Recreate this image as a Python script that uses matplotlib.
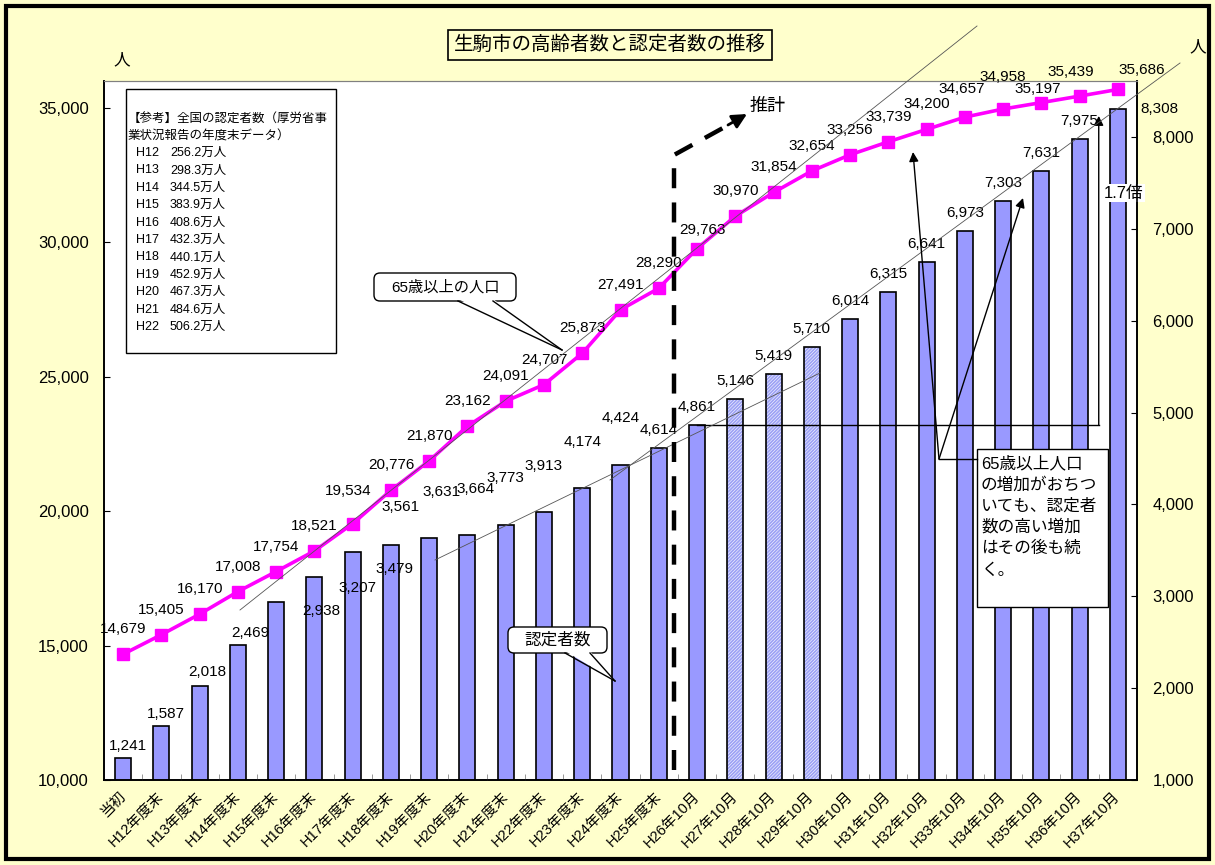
import numpy as np
import matplotlib.pyplot as plt
from matplotlib.patches import Rectangle, FancyBboxPatch, Polygon, FancyArrowPatch
from matplotlib.lines import Line2D
from matplotlib.transforms import IdentityTransform

plt.rcParams['font.family'] = ['Liberation Sans', 'Noto Sans CJK JP', 'DejaVu Sans']
plt.rcParams['hatch.linewidth'] = 1.3

categories = ['当初', 'H12年度末', 'H13年度末', 'H14年度末', 'H15年度末', 'H16年度末',
              'H17年度末', 'H18年度末', 'H19年度末', 'H20年度末', 'H21年度末', 'H22年度末',
              'H23年度末', 'H24年度末', 'H25年度末', 'H26年10月', 'H27年10月', 'H28年10月',
              'H29年10月', 'H30年10月', 'H31年10月', 'H32年10月', 'H33年10月', 'H34年10月',
              'H35年10月', 'H36年10月', 'H37年10月']
elderly = [14679, 15405, 16170, 17008, 17754, 18521, 19534, 20776, 21870, 23162, 24091,
           24707, 25873, 27491, 28290, 29763, 30970, 31854, 32654, 33256, 33739, 34200,
           34657, 34958, 35197, 35439, 35686]
certified = [1241, 1587, 2018, 2469, 2938, 3207, 3479, 3561, 3631, 3664, 3773, 3913, 4174,
             4424, 4614, 4861, 5146, 5419, 5710, 6014, 6315, 6641, 6973, 7303, 7631, 7975, 8308]
national_year = ['H12', 'H13', 'H14', 'H15', 'H16', 'H17', 'H18', 'H19', 'H20', 'H21', 'H22']
national_count = ['256.2', '298.3', '344.5', '383.9', '408.6', '432.3', '440.1', '452.9',
                  '467.3', '484.6', '506.2']
note_lines = ['65歳以上人口', 'の増加がおちつ', 'いても、認定者', '数の高い増加', 'はその後も続', 'く。']

projected = [16, 17, 18]   # hatched bars
base_idx = 15              # 1.7倍 reference bar

# label nudges in pixels (dx, dy)
line_off = {6: (-4, 33), 15: (5, 19), 22: (-3, 28), 23: (0, 32), 24: (-4, 14), 25: (-9, 24),
            26: (24, 19)}
bar_off = {0: (5, 12), 1: (4, 12), 2: (8, 14), 3: (12, 12), 4: (45, -9), 5: (43, -11),
           6: (42, -17), 7: (10, 38), 8: (12, 46), 9: (8, 46), 10: (0, 47), 11: (0, 46),
           12: (0, 46), 13: (0, 47), 26: (42, 0)}

W, H = 1215, 865


def fx(x):
    return x / W


def fy(y):
    return 1 - y / H


def P(x, y):
    return (x, H - y)


fig = plt.figure(figsize=(W / 100, H / 100), dpi=100, facecolor='#FFFFCC')
fig.add_artist(Rectangle((fx(6), fy(859)), fx(1209) - fx(6), fy(6) - fy(859),
                         transform=fig.transFigure, fill=False, lw=3, ec='black'))

ax = fig.add_axes([fx(104), fy(780), fx(1137) - fx(104), fy(81) - fy(780)])
ax2 = ax.twinx()
ax.set_zorder(2)
ax2.set_zorder(1)
ax.patch.set_visible(False)
ax2.patch.set_visible(True)
ax2.patch.set_facecolor('white')

x = np.arange(len(categories))
solid = [i for i in x if i not in projected]
ax2.bar(solid, [certified[i] for i in solid], 0.42, color='#9999FF', edgecolor='black', lw=1.2)
ax2.bar(projected, [certified[i] for i in projected], 0.42, color='white',
        edgecolor='#9DA2F5', hatch='/' * 10, lw=0)
ax2.bar(projected, [certified[i] for i in projected], 0.42, fill=False, edgecolor='black', lw=1.2)

ax.plot(x, elderly, color='#FF00FF', lw=2.6, marker='s', ms=8, zorder=3)

for i, v in enumerate(elderly):
    dx, dy = line_off.get(i, (0, 25))
    ax.annotate(f'{v:,}', (i, v), xytext=(dx, dy), textcoords='offset pixels',
                ha='center', va='center', fontsize=11, annotation_clip=False)
for i, v in enumerate(certified):
    dx, dy = bar_off.get(i, (0, 18))
    ax2.annotate(f'{v:,}', (i, v), xytext=(dx, dy), textcoords='offset pixels',
                 ha='center', va='center', fontsize=11, annotation_clip=False)

ax.set_xlim(-0.5, 26.5)
ax.set_ylim(10000, 36000)
ax2.set_ylim(1000, 8610)
ax.set_yticks(range(10000, 35001, 5000))
ax.set_yticklabels([f'{t:,}' for t in range(10000, 35001, 5000)], fontsize=12)
ax2.set_yticks(range(1000, 8001, 1000))
ax2.set_yticklabels([f'{t:,}' for t in range(1000, 8001, 1000)], fontsize=12)
ax.tick_params(axis='y', direction='in', length=4, pad=11)
ax2.tick_params(axis='y', direction='in', length=4, pad=11)

ax.set_xticks(x)
ax.set_xticklabels(categories, rotation=45, ha='right', va='center',
                   rotation_mode='anchor', fontsize=10.5)
ax.set_xticks(x[:-1] + 0.5, minor=True)
ax.tick_params(axis='x', which='major', length=0, pad=10)
ax.tick_params(axis='x', which='minor', direction='in', length=4, color='#888888')

for a in (ax, ax2):
    a.spines['top'].set_color('#808080')
    a.spines['top'].set_linewidth(0.8)
    for s in ('left', 'bottom', 'right'):
        a.spines[s].set_color('black')
        a.spines[s].set_linewidth(1.2)

# 1.7倍 guide
ax2.plot([base_idx, 25.5], [certified[base_idx]] * 2, color='black', lw=1, zorder=4)
ax2.annotate('', xy=(25.5, 8230), xytext=(25.5, certified[base_idx]),
             arrowprops=dict(arrowstyle='-|>', lw=1, color='black', shrinkA=0, shrinkB=0,
                             mutation_scale=14))
ax2.text(26.15, 7390, '1.7倍', ha='center', va='center', fontsize=12, zorder=5,
         bbox=dict(fc='white', ec='none', pad=1))

# thin guide lines
for (x0, y0), (x1, y1) in [((240, 610), (977, 26)), ((610, 480), (1180, 63)),
                           ((435, 560), (820, 373))]:
    fig.add_artist(Line2D([x0, x1], [H - y0, H - y1], transform=IdentityTransform(),
                          color='#555555', lw=0.6, zorder=4))

# projection dashed arrow
fig.add_artist(Line2D([674, 674, 732], [H - 770, H - 155, H - 123], transform=IdentityTransform(),
                      color='black', lw=3.2, linestyle=(0, (4.5, 3.2)), zorder=4))
fig.add_artist(FancyArrowPatch(P(728, 125), P(747, 114), arrowstyle='-|>', mutation_scale=22,
                               lw=2, color='black', transform=IdentityTransform(),
                               shrinkA=0, shrinkB=0, zorder=4))
fig.text(fx(768), fy(106), '推計', ha='center', va='center', fontsize=13)

# title and unit labels
fig.add_artist(Rectangle((fx(448), fy(60)), fx(772) - fx(448), fy(30) - fy(60),
                         transform=fig.transFigure, fill=False, lw=1.2, ec='black'))
fig.text(fx(610), fy(45), '生駒市の高齢者数と認定者数の推移', ha='center', va='center', fontsize=14)
fig.text(fx(122), fy(60), '人', ha='center', va='center', fontsize=12)
fig.text(fx(1198), fy(47), '人', ha='center', va='center', fontsize=12)

# reference box
fig.add_artist(Rectangle(P(126, 353), 210, 264, transform=IdentityTransform(),
                         fc='white', ec='black', lw=1, zorder=5))
fig.text(fx(128), fy(120), '【参考】全国の認定者数（厚労省事', va='center', fontsize=9, zorder=7)
fig.text(fx(128), fy(137), '業状況報告の年度末データ）', va='center', fontsize=9, zorder=7)
for k, (yr, cnt) in enumerate(zip(national_year, national_count)):
    yy = 153 + 17.4 * k
    fig.text(fx(136), fy(yy), yr, va='center', fontsize=9, zorder=7)
    fig.text(fx(170), fy(yy), cnt + '万人', va='center', fontsize=9, zorder=7)


def callout(x0, y0, x1, y1, base, tip, label, fs):
    fig.add_artist(FancyBboxPatch(P(x0, y1), x1 - x0, y1 - y0,
                                  boxstyle='round,pad=0,rounding_size=6',
                                  transform=IdentityTransform(), fc='white', ec='black',
                                  lw=1, zorder=5))
    fig.add_artist(Polygon([P(base[0], y1 - 2), P(base[1], y1 - 2), P(*tip)],
                           transform=IdentityTransform(), fc='white', ec='none', zorder=6))
    for bx in base:
        fig.add_artist(Line2D([bx, tip[0]], [H - y1, H - tip[1]], transform=IdentityTransform(),
                              color='black', lw=1, zorder=6))
    fig.text(fx((x0 + x1) / 2), fy((y0 + y1) / 2), label, ha='center', va='center',
             fontsize=fs, zorder=7)


callout(374, 273, 516, 301, (458, 493), (562, 350), '65歳以上の人口', 11)
callout(508, 627, 607, 653, (565, 590), (615, 681), '認定者数', 12)

# note box with arrows
fig.add_artist(Rectangle(P(977, 607), 131, 158, transform=IdentityTransform(),
                         fc='white', ec='black', lw=1, zorder=5))
for k, s in enumerate(note_lines):
    fig.text(fx(981), fy(463 + 21.4 * k), s, va='center', fontsize=12, zorder=7)
fig.add_artist(Line2D([977, 939], [H - 459, H - 459], transform=IdentityTransform(),
                      color='black', lw=1, zorder=6))
for tip in [(913, 152), (1023, 198)]:
    fig.add_artist(FancyArrowPatch(P(939, 459), P(*tip), arrowstyle='-|>', mutation_scale=14,
                                   lw=1, color='black', transform=IdentityTransform(),
                                   shrinkA=0, shrinkB=0, zorder=6))

fig.savefig('out.png', dpi=100, facecolor=fig.get_facecolor())
